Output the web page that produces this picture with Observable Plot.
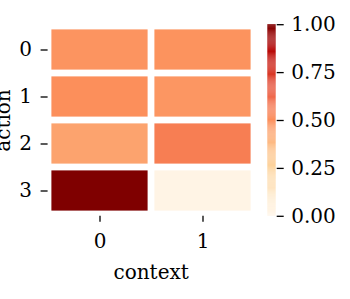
<!DOCTYPE html>
<html>
<head>
<meta charset="utf-8">
<script src="https://cdn.jsdelivr.net/npm/d3@7"></script>
<script src="https://cdn.jsdelivr.net/npm/@observablehq/plot@0.6"></script>
<style>
  html, body { margin: 0; padding: 0; background: #fff; }
  #wrap { position: relative; width: 350px; height: 299px; overflow: hidden; }
  #wrap svg { position: absolute; left: 0; top: 0; }
</style>
</head>
<body>
<div id="wrap"></div>
<script>
// ---- data ----
const contexts = [0, 1];
const actions = [0, 1, 2, 3];
const valuesContext0 = [0.48, 0.495, 0.44, 1.0];
const valuesContext1 = [0.485, 0.475, 0.547, 0.025];
const colorbarTicks = [0, 0.25, 0.5, 0.75, 1.0];
const xLabel = "context";
const yLabel = "action";

// matplotlib OrRd anchor colours
const orrdStops = [0, 0.125, 0.25, 0.375, 0.5, 0.625, 0.75, 0.875, 1];
const orrdColors = ["#fff7ec", "#fee8c8", "#fdd49e", "#fdbb84", "#fc8d59", "#ef6548", "#d7301f", "#b30000", "#7f0000"];

const cells = [];
actions.forEach((a, i) => {
  cells.push({context: contexts[0], action: a, value: valuesContext0[i]});
  cells.push({context: contexts[1], action: a, value: valuesContext1[i]});
});

const FONT = "DejaVu Serif";
const FS = 20;
const colorOpts = {type: "linear", domain: orrdStops, range: orrdColors, interpolate: "rgb"};
const styleStr = "background: transparent; color: #000; font-family: 'DejaVu Serif', serif; font-size: 20px;";

const W = 350, H = 299;
const plotTop = 24.2, plotBottom = 215.8;

const heat = Plot.plot({
  width: W, height: H,
  marginLeft: 47.6, marginRight: W - 253.7,
  marginTop: plotTop, marginBottom: H - plotBottom,
  style: styleStr,
  x: {type: "band", domain: contexts, padding: 0, label: null},
  y: {type: "band", domain: actions, padding: 0, label: null},
  color: colorOpts,
  marks: [
    Plot.cell(cells, {x: "context", y: "action", fill: "value", inset: 3.4}),
    Plot.axisX({tickSize: 6, tickPadding: 11, strokeWidth: 1.3, label: null, fontSize: FS, fontFamily: FONT}),
    Plot.axisY({tickSize: 7, tickPadding: 9, strokeWidth: 1.3, label: null, fontSize: FS, fontFamily: FONT}),
    Plot.text([xLabel], {frameAnchor: "bottom", textAnchor: "middle", lineAnchor: "middle", dy: 56, text: d => d, fontSize: FS, fontFamily: FONT}),
    Plot.text([yLabel], {frameAnchor: "left", textAnchor: "middle", lineAnchor: "middle", dx: -45, rotate: -90, text: d => d, fontSize: FS, fontFamily: FONT})
  ]
});

const step = 1 / 200;
const bar = d3.range(0, 1, step);
const cbar = Plot.plot({
  width: W, height: H,
  marginLeft: 267.3, marginRight: W - 275.7,
  marginTop: plotTop, marginBottom: H - plotBottom,
  style: styleStr,
  x: {domain: [0, 1], axis: null},
  y: {domain: [0, 1], label: null},
  color: colorOpts,
  marks: [
    Plot.rect(bar, {x1: 0, x2: 1, y1: d => d, y2: d => Math.min(1, d + step * 1.02), fill: d => d + step / 2}),
    Plot.axisY({anchor: "right", ticks: colorbarTicks, tickFormat: d3.format(".2f"), tickSize: 7, tickPadding: 8, strokeWidth: 1.3, label: null, fontSize: FS, fontFamily: FONT})
  ]
});

const wrap = document.getElementById("wrap");
wrap.appendChild(heat);
wrap.appendChild(cbar);
</script>
</body>
</html>
